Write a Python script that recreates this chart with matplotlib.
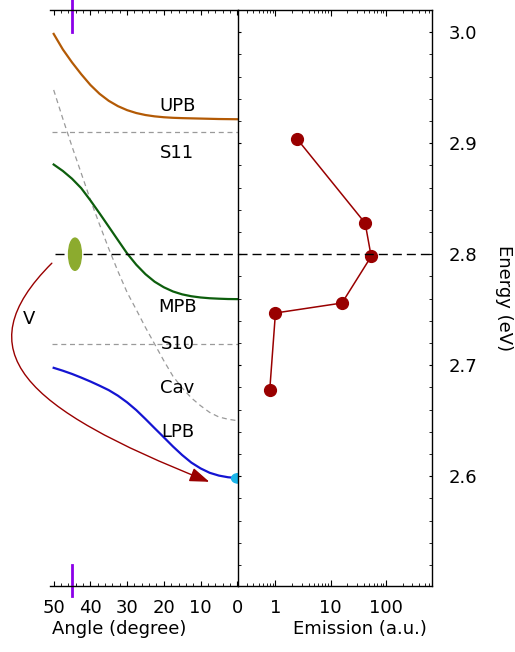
import numpy as np
import matplotlib.pyplot as plt
from matplotlib.path import Path
from matplotlib.patches import FancyArrowPatch, Ellipse
from matplotlib.ticker import MultipleLocator, NullFormatter

plt.rcParams['font.family'] = ['DejaVu Sans']
plt.rcParams['font.size'] = 13

# dispersion (angle in degree, energy in eV)
angle = [50, 47.5, 45, 42.5, 40, 37.5, 35, 32.5, 30, 27.5, 25,
         22.5, 20, 17.5, 15, 12.5, 10, 7.5, 5, 2.5, 0]
upb = [2.9985, 2.9845, 2.9728, 2.9622, 2.9525, 2.9445, 2.9382, 2.9334, 2.9298, 2.9272, 2.9254,
       2.9242, 2.9234, 2.9229, 2.9226, 2.9224, 2.9222, 2.9220, 2.9218, 2.9217, 2.9216]
mpb = [2.8808, 2.8750, 2.8680, 2.8595, 2.8485, 2.8368, 2.8248, 2.8127, 2.8007, 2.7905, 2.7820,
       2.7752, 2.7702, 2.7664, 2.7638, 2.7621, 2.7610, 2.7603, 2.7599, 2.7596, 2.7595]
lpb = [2.6976, 2.6950, 2.6921, 2.6888, 2.6853, 2.6815, 2.6775, 2.6725, 2.6665, 2.6595, 2.6515,
       2.6432, 2.6350, 2.6267, 2.6190, 2.6122, 2.6070, 2.6030, 2.6005, 2.5990, 2.5983]
cav = [2.948, 2.922, 2.897, 2.873, 2.849, 2.8267, 2.805, 2.7846, 2.7656, 2.750, 2.734,
       2.719, 2.704, 2.690, 2.6795, 2.6705, 2.6635, 2.6574, 2.6533, 2.6513, 2.650]
s11 = 2.910
s10 = 2.719
e_pump = 2.80
e_lpb_bottom = 2.598
pump_angle = 45

# emission spectrum (right panel)
emission = [2.45, 42, 54, 16, 1.0, 0.79]
energy = [2.904, 2.828, 2.798, 2.756, 2.747, 2.678]
em_ticks = [1, 10, 100]
em_labels = ['1', '10', '100']

fig = plt.figure(figsize=(5.15, 6.52), dpi=100)
ax1 = fig.add_axes([0.0971, 0.1012, 0.3650, 0.8834])
ax2 = fig.add_axes([0.4621, 0.1012, 0.3767, 0.8834])

# ---- left panel: dispersion
grey = '#9a9a9a'
ax1.plot(angle, cav, color=grey, lw=0.9, ls=(0, (4, 3)))
ax1.hlines(s11, 50.5, -0.2, color=grey, lw=0.9, ls=(0, (4, 3)))
ax1.hlines(s10, 50.5, -0.2, color=grey, lw=0.9, ls=(0, (4, 3)))
ax1.plot(angle, upb, color='#b35a05', lw=1.6, solid_joinstyle='round')
ax1.plot(angle, mpb, color='#0d5e0d', lw=1.6, solid_joinstyle='round')
ax1.plot(angle, lpb, color='#1414d2', lw=1.6, solid_joinstyle='round')
ax1.hlines(e_pump, 49.7, -0.2, color='black', lw=1.0, ls=(0, (6.5, 3.6)))

ax1.add_patch(Ellipse((44.2, e_pump), 3.5, 0.029, color='#8cab2e', zorder=5))
ax1.add_patch(Ellipse((-0.2, e_lpb_bottom), 3.5, 0.0085, color='#1ab4e8',
                      zorder=10, clip_on=False))

# purple marks of the pump angle
ax1.plot([pump_angle, pump_angle], [3.0, 3.029], color='#8b00e8', lw=2, clip_on=False)
ax1.plot([pump_angle, pump_angle], [2.492, 2.520], color='#8b00e8', lw=2, clip_on=False)

# relaxation arrow
verts = [(50.5, 2.7919), (74.5, 2.7126), (58.4, 2.6613), (7.6, 2.5949)]
codes = [Path.MOVETO, Path.CURVE4, Path.CURVE4, Path.CURVE4]
arrow = FancyArrowPatch(path=Path(verts, codes),
                        arrowstyle='-|>,head_length=1.2,head_width=0.43',
                        mutation_scale=10, color='#990000', lw=1.0, clip_on=False)
ax1.add_patch(arrow)

lab_x = 16.3
for txt, e in [('UPB', 2.9356), ('S11', 2.8932), ('MPB', 2.754),
               ('S10', 2.7207), ('Cav', 2.681), ('LPB', 2.642)]:
    ax1.text(lab_x, e - 0.002, txt, ha='center', va='center')
ax1.text(56.8, 2.742, 'V', ha='center', va='center')

ax1.set_xlim(51.0, -0.2)
ax1.set_ylim(2.501, 3.02)
ax1.spines['left'].set_visible(False)
ax1.spines['right'].set_visible(False)
ax1.xaxis.set_major_locator(MultipleLocator(10))
ax1.xaxis.set_minor_locator(MultipleLocator(2))
ax1.tick_params(axis='x', which='both', direction='in', top=True, bottom=True, pad=9)
ax1.tick_params(axis='x', which='major', length=3.5)
ax1.tick_params(axis='x', which='minor', length=2)
ax1.tick_params(axis='y', which='both', left=False, labelleft=False)
ax1.set_xlabel('Angle (degree)')
ax1.xaxis.set_label_coords(0.37, -0.059)
ax1.get_xticklabels()[-1].set_ha('right')

# ---- right panel: emission
ax2.plot(emission, energy, color='#990000', lw=1.1, marker='o', ms=8.5)
ax2.axhline(e_pump, color='black', lw=1.0, ls=(0, (6.5, 3.6)))
ax2.set_xscale('log')
ax2.set_xlim(0.21, 680)
ax2.set_ylim(2.501, 3.02)
ax2.set_xticks(em_ticks, labels=em_labels)
ax2.xaxis.set_minor_formatter(NullFormatter())
ax2.yaxis.set_major_locator(MultipleLocator(0.1))
ax2.yaxis.set_minor_locator(MultipleLocator(0.02))
ax2.tick_params(axis='x', which='both', direction='in', top=True, bottom=True, pad=9)
ax2.tick_params(axis='x', which='major', length=4)
ax2.tick_params(axis='x', which='minor', length=2)
ax2.tick_params(axis='y', which='both', direction='in', left=True, right=True,
                labelleft=False, labelright=True, length=2.5, pad=12)
ax2.yaxis.set_label_position('right')
ax2.set_ylabel('Energy (eV)', rotation=270, va='center', ha='center')
ax2.yaxis.set_label_coords(1.371, 0.5)
ax2.set_xlabel('Emission (a.u.)')
ax2.xaxis.set_label_coords(0.629, -0.059)

for ax in (ax1, ax2):
    for sp in ax.spines.values():
        sp.set_linewidth(1.0)

fig.savefig('out.png', dpi=100)
